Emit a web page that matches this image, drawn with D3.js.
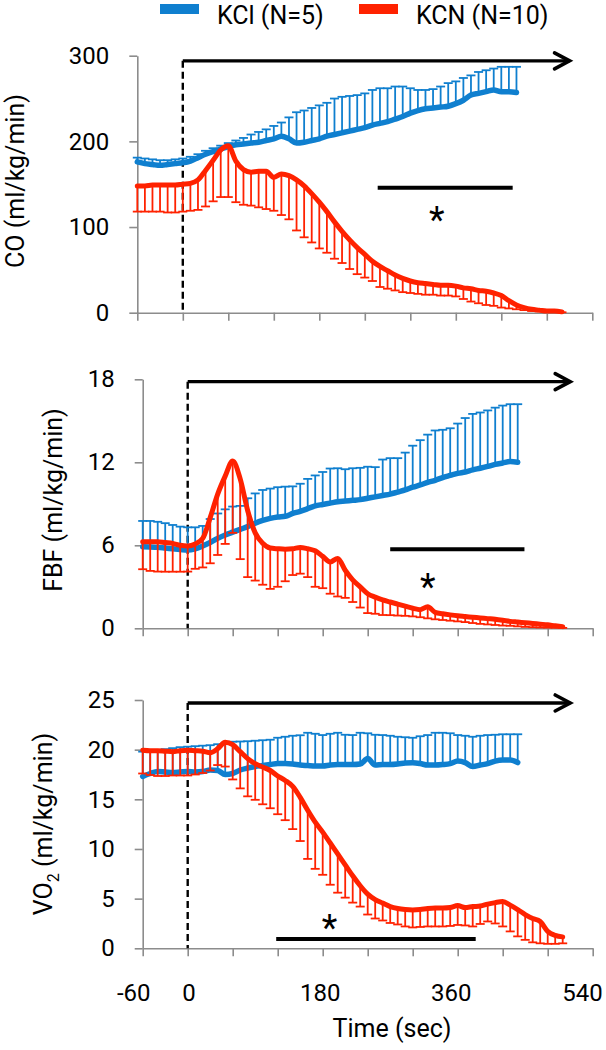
<!DOCTYPE html>
<html><head><meta charset="utf-8">
<script src="https://cdn.jsdelivr.net/npm/d3@7"></script>
<style>
body{margin:0;background:#fff}
svg{display:block}
text{font-family:Roboto,"Noto Sans",sans-serif;fill:#000}
</style>
</head><body>
<svg id="c" width="606" height="1050"></svg>
<script>
// ---------------- DATA ----------------
const seriesNames = ["KCl (N=5)", "KCN (N=10)"];
const xTickValues = [-60, 0, 60, 120, 180, 240, 300, 360, 420, 480, 540];
const xLabelValues = [-60, 0, 180, 360, 540];

const timeKCl = [-60,-50,-40,-30,-20,-10,0,10,20,30,40,50,60,70,80,90,100,110,120,130,140,150,160,170,180,190,200,210,220,230,240,250,260,270,280,290,300,310,320,330,340,350,360,370,380,390,400,410,420,430,440];
const timeKCN = [-60,-50,-40,-30,-20,-10,0,10,20,30,40,50,60,70,80,90,100,110,120,130,140,150,160,170,180,190,200,210,220,230,240,250,260,270,280,290,300,310,320,330,340,350,360,370,380,390,400,410,420,430,440,450,460,470,480,490,500];

// CO (ml/kg/min)
const coKClMean  = [176,174,173,172,173,174,175,177,181,185,188,191,194,196,197,198,199,201,203,206,203,198,199,201,203,206,208,210,212,214,216,219,221,223,226,229,233,236,238,239,240,241,244,248,254,256,258,260,258,258,257];
const coKClUpper = [181,180,179,178,178,179,180,182,185,189,192,195,198,201,204,208,211,214,218,222,228,234,236,239,242,245,250,252,253,254,256,260,262,262,264,264,262,260,260,261,264,268,270,274,277,281,283,285,287,287,287];
const coKCNMean  = [148,148,149,149,149,149,150,151,155,166,178,190,195,177,167,164,165,165,158,162,160,155,148,139,129,118,106,95,85,76,68,60,54,49,44,40,37,35,34,33,32,32,31,29,28,26,25,23,20,14,9,6,4,3,2,2,1];
const coKCNLower = [118,118,118,118,117,117,118,119,120,124,130,135,135,129,126,125,123,121,119,114,109,96,88,82,75,70,63,58,51,45,41,37,30,28,26,24,23,22,21,21,20,20,19,16,13,11,9,8,6,5,4,3,2,1.5,1,1,0.5];

// FBF (ml/kg/min)
const fbfKClMean  = [5.9,5.88,5.85,5.8,5.75,5.7,5.66,5.75,5.95,6.2,6.5,6.75,6.95,7.15,7.35,7.6,7.8,7.95,8.05,8.1,8.3,8.45,8.65,8.85,8.95,9.05,9.15,9.2,9.25,9.3,9.4,9.5,9.6,9.7,9.85,10.0,10.2,10.36,10.55,10.7,10.9,11.05,11.2,11.3,11.45,11.57,11.7,11.85,11.95,12.05,12.0];
const fbfKClUpper = [7.76,7.76,7.7,7.6,7.47,7.35,7.3,7.3,7.4,7.9,8.3,8.6,8.8,8.85,9.4,9.75,10.0,10.1,10.2,10.24,10.26,10.45,10.8,11.05,11.3,11.55,11.57,11.5,11.57,11.6,11.68,11.65,12.2,12.3,12.3,12.7,13.2,13.6,14.0,14.3,14.35,14.46,14.8,15.2,15.5,15.6,15.75,15.95,16.1,16.2,16.2];
const fbfKCNMean  = [6.26,6.26,6.26,6.2,6.14,6.0,5.95,6.1,6.5,8.0,9.7,11.0,12.1,10.8,8.5,6.9,6.15,5.8,5.75,5.72,5.75,5.85,5.75,5.6,5.2,4.8,5.05,4.2,3.5,3.0,2.5,2.25,2.05,1.9,1.75,1.6,1.45,1.35,1.56,1.15,1.05,0.97,0.9,0.85,0.8,0.75,0.7,0.65,0.58,0.5,0.45,0.4,0.35,0.3,0.25,0.18,0.12];
const fbfKCNLower = [4.27,4.15,4.1,4.09,4.09,4.09,4.1,4.3,4.4,4.7,5.3,6.1,6.9,5.0,3.7,3.45,3.15,2.85,3.0,3.4,3.85,3.95,3.7,3.0,2.9,2.5,2.3,2.2,1.9,1.5,1.1,1.05,0.96,0.95,0.92,0.9,0.86,0.8,0.72,0.65,0.6,0.55,0.5,0.45,0.38,0.32,0.28,0.24,0.2,0.18,0.14,0.1,0.08,0.06,0.05,0.04,0.03];

// VO2 (ml/kg/min)
const vo2KClMean  = [17.3,17.6,17.8,17.75,17.7,17.75,17.8,17.75,17.8,17.95,17.9,17.5,17.6,17.95,18.15,18.3,18.4,18.5,18.6,18.6,18.55,18.45,18.4,18.35,18.35,18.45,18.5,18.5,18.5,18.55,19.1,18.45,18.5,18.5,18.55,18.65,18.68,18.6,18.45,18.45,18.5,18.6,18.85,18.7,18.3,18.45,18.6,18.85,18.95,18.95,18.7];
const vo2KClUpper = [19.8,19.9,19.97,20.05,20.15,20.25,20.3,20.35,20.4,20.45,20.55,20.7,20.8,20.82,20.85,20.9,20.95,21.0,21.2,21.3,21.4,21.45,21.7,21.6,21.47,21.6,21.7,21.5,21.47,21.7,21.65,21.5,21.47,21.4,21.3,21.25,21.2,21.35,21.47,21.7,21.7,21.65,21.47,21.4,21.3,21.4,21.47,21.5,21.55,21.55,21.55];
const vo2KCNMean  = [19.95,19.9,19.9,19.85,19.8,19.9,19.95,19.9,19.85,19.7,20.1,20.75,20.5,19.8,19.1,18.6,18.25,17.9,17.35,16.9,16.3,15.2,13.9,12.7,11.7,10.6,9.5,8.4,7.3,6.3,5.45,4.9,4.55,4.2,4.0,3.9,3.86,3.9,4.0,4.05,4.05,4.1,4.3,4.1,4.2,4.25,4.45,4.6,4.7,4.35,3.9,3.4,3.0,2.7,1.7,1.3,1.15];
const vo2KCNLower = [17.6,17.45,17.35,17.35,17.4,17.4,17.4,17.5,17.65,17.9,18.45,18.3,17.0,16.1,15.3,14.95,14.5,14.1,13.5,12.9,12.0,10.8,9.0,8.0,7.4,6.4,5.6,5.1,4.6,4.2,3.4,3.0,2.8,2.55,2.4,2.2,2.1,2.15,2.2,2.2,2.2,2.25,2.35,2.3,2.2,2.45,2.7,2.5,2.2,1.7,1.2,0.85,0.6,0.5,0.45,0.45,0.5];

// annotations (data units)
const injectionTime = 0;
const arrowEndTime = 510;
const sigCO = [257, 435],  starCO = [335, 116];
const sigFBF = [270, 449], starFBF = [320, 3.5];
const sigVO2 = [118, 384], starVO2 = [189, 2.7];

// ---------------- DRAW ----------------
const BLUE = "#0f7fcf", RED = "#ff2200", AXIS = "#8c8c8c";
const FONT = 'Roboto,"Noto Sans",sans-serif';
const svg = d3.select("#c");

const panels = [
  {title:["CO (ml/kg/min)"], yDomain:[0,300], yTicks:[0,100,200,300], xRange:[137.3,592.3], yRange:[312.7,55.7],
   titleX:24, titleY:181, arrowVal:294, kcl:[coKClMean,coKClUpper], kcn:[coKCNMean,coKCNLower], sig:sigCO, sigVal:146, star:starCO},
  {title:["FBF (ml/kg/min)"], yDomain:[0,18], yTicks:[0,6,12,18], xRange:[142.7,592.7], yRange:[628.3,379.3],
   titleX:62, titleY:500, arrowVal:17.83, kcl:[fbfKClMean,fbfKClUpper], kcn:[fbfKCNMean,fbfKCNLower], sig:sigFBF, sigVal:5.71, star:starFBF},
  {title:["VO","2"," (ml/kg/min)"], yDomain:[0,25], yTicks:[0,5,10,15,20,25], xRange:[142.7,592.7], yRange:[948.3,700],
   titleX:52, titleY:824, arrowVal:24.7, kcl:[vo2KClMean,vo2KClUpper], kcn:[vo2KCNMean,vo2KCNLower], sig:sigVO2, sigVal:0.94, star:starVO2}
];

panels.forEach((p, pi) => {
  const x = d3.scaleLinear().domain([-60, 540]).range(p.xRange);
  const y = d3.scaleLinear().domain(p.yDomain).range(p.yRange);
  const g = svg.append("g");

  // y axis
  const ya = g.append("g").attr("transform", `translate(${p.xRange[0]},0)`)
    .call(d3.axisLeft(y).tickValues(p.yTicks).tickSize(8).tickSizeOuter(0).tickPadding(20).tickFormat(d3.format("d")));
  ya.selectAll("path,line").attr("stroke", AXIS).attr("stroke-width", 1.6);
  ya.selectAll("text").attr("font-size", 24).attr("font-family", FONT).attr("fill", "#000");

  // x axis (ticks only)
  const xa = g.append("g").attr("transform", `translate(0,${p.yRange[0]})`)
    .call(d3.axisBottom(x).tickValues(xTickValues).tickSize(8).tickSizeOuter(0).tickFormat(""));
  xa.selectAll("path,line").attr("stroke", AXIS).attr("stroke-width", 1.6);

  // y title
  const tt = g.append("text").attr("transform", `translate(${p.titleX},${p.titleY}) rotate(-90)`)
    .attr("text-anchor", "middle").attr("font-size", 25);
  if (p.title.length === 1) tt.text(p.title[0]);
  else {
    tt.append("tspan").text(p.title[0]);
    tt.append("tspan").text(p.title[1]).attr("font-size", 16).attr("dy", 7);
    tt.append("tspan").text(p.title[2]).attr("dy", -7);
  }

  // dashed injection line + arrow
  g.append("line").attr("x1", x(injectionTime)).attr("x2", x(injectionTime))
    .attr("y1", y(p.arrowVal)).attr("y2", y(0))
    .attr("stroke", "#000").attr("stroke-width", 2.4).attr("stroke-dasharray", "7,4");
  g.append("line").attr("x1", x(injectionTime)).attr("x2", x(arrowEndTime))
    .attr("y1", y(p.arrowVal)).attr("y2", y(p.arrowVal))
    .attr("stroke", "#000").attr("stroke-width", 3.4);
  const tx = x(arrowEndTime), ty = y(p.arrowVal);
  g.append("path").attr("d", `M${tx-15},${ty-8}L${tx},${ty}L${tx-15},${ty+8}`)
    .attr("fill", "none").attr("stroke", "#000").attr("stroke-width", 3.6).attr("stroke-linecap", "round").attr("stroke-linejoin", "miter");

  // series
  const drawSeries = (times, mean, bound, color, lw) => {
    const eg = g.append("g").attr("stroke", color).attr("stroke-width", 1.8);
    times.forEach((t, i) => {
      eg.append("line").attr("x1", x(t)).attr("x2", x(t)).attr("y1", y(mean[i])).attr("y2", y(bound[i]));
      eg.append("line").attr("x1", x(t) - 4.5).attr("x2", x(t) + 4.5).attr("y1", y(bound[i])).attr("y2", y(bound[i]));
    });
    const line = d3.line().x((d, i) => x(times[i])).y(d => y(d)).curve(d3.curveMonotoneX);
    g.append("path").datum(mean).attr("d", line).attr("fill", "none")
      .attr("stroke", color).attr("stroke-width", lw).attr("stroke-linecap", "round").attr("stroke-linejoin", "round");
  };
  drawSeries(timeKCl, p.kcl[0], p.kcl[1], BLUE, 5.5);
  drawSeries(timeKCN, p.kcn[0], p.kcn[1], RED, 5);

  // significance bar + asterisk
  g.append("line").attr("x1", x(p.sig[0])).attr("x2", x(p.sig[1]))
    .attr("y1", y(p.sigVal)).attr("y2", y(p.sigVal)).attr("stroke", "#000").attr("stroke-width", 4);
  g.append("text").attr("x", x(p.star[0])).attr("y", y(p.star[1]) + 19)
    .attr("text-anchor", "middle").attr("font-size", 36).text("*");

  // bottom x labels on last panel
  if (pi === panels.length - 1) {
    const lx = d3.scaleLinear().domain([-60, 0, 540]).range([133.7, 189, 582.5]);
    g.selectAll("text.xl").data(xLabelValues).join("text").attr("class", "xl")
      .attr("x", d => lx(d)).attr("y", 1001).attr("text-anchor", "middle").attr("font-size", 24).text(d => d);
    g.append("text").attr("x", 392).attr("y", 1037).attr("text-anchor", "middle").attr("font-size", 25).text("Time (sec)");
  }
});

// legend
const legend = svg.append("g");
const legX = [160, 359], legColors = [BLUE, RED];
seriesNames.forEach((name, i) => {
  legend.append("rect").attr("x", legX[i]).attr("y", 4).attr("width", 39).attr("height", 10).attr("fill", legColors[i]);
  legend.append("text").attr("x", legX[i] + 57).attr("y", 23.5).attr("font-size", 25).text(name);
});
</script>
</body></html>
